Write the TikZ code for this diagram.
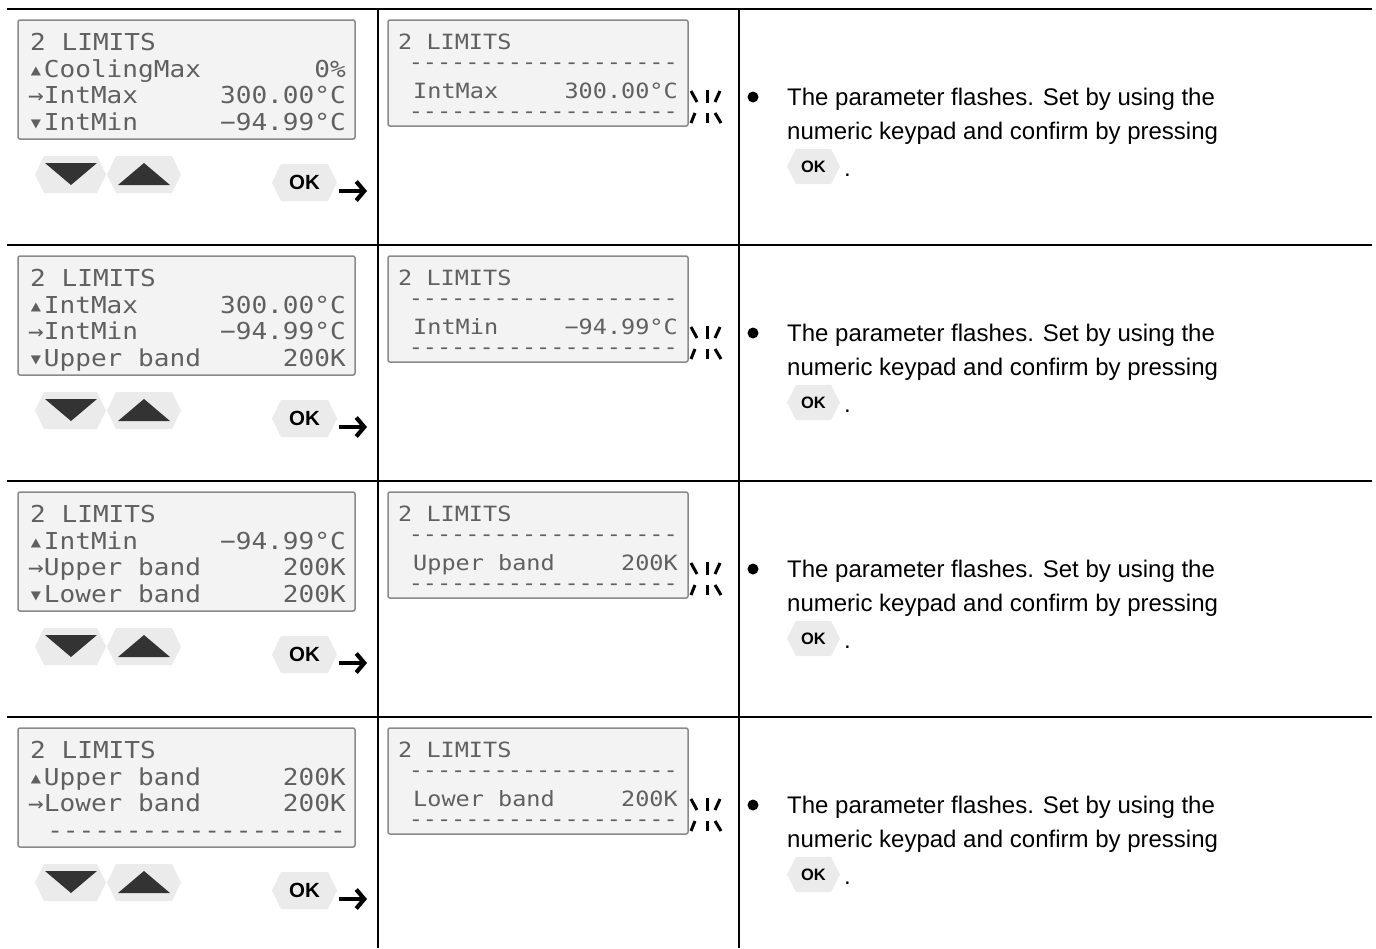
\documentclass[tikz,border=0pt]{standalone}
\usepackage{fontspec}
\setmainfont{Liberation Sans}
\newfontfamily\lcdfont[FakeStretch=1.12]{DejaVu Sans Mono}
\usetikzlibrary{arrows.meta}
\definecolor{lcdfill}{HTML}{F3F3F3}
\definecolor{lcdedge}{HTML}{8A8A8A}
\definecolor{lcdtext}{HTML}{606060}
\definecolor{keyfill}{HTML}{EBEBEB}
\definecolor{keytri}{HTML}{333333}
\tikzset{
  rule/.style={line width=2.2pt, black},
  lcdbox/.style={draw=lcdedge, fill=lcdfill, line width=1.5pt, rounded corners=2pt, inner sep=0pt},
  lcdbig/.style={inner sep=0pt, font=\lcdfont\fontsize{23.3}{24}\selectfont, text=lcdtext},
  lcdsmall/.style={inner sep=0pt, font=\lcdfont\fontsize{21}{22}\selectfont, text=lcdtext},
  okbig/.style={font=\bfseries\fontsize{20.5}{21}\selectfont},
  oksmall/.style={font=\bfseries\fontsize{16.5}{17}\selectfont},
  body/.style={inner sep=0pt, anchor=base west, font=\fontsize{24}{34}\selectfont},
  flash/.style={line width=3pt, black},
  okarrow/.style={line width=3.6pt, -{Straight Barb[length=8pt,width=19pt,line width=4.2pt]}},
}
\newcommand\lcddashes{-{}-{}-{}-{}-{}-{}-{}-{}-{}-{}-{}-{}-{}-{}-{}-{}-{}-{}-}
% name, cx, cy, half width, half height, style, content
\newcommand\hexkey[7]{%
  \fill[keyfill] ({#2-#4},{#3}) -- ({#2-#4+9},{#3-#5}) -- ({#2+#4-9},{#3-#5})
    -- ({#2+#4},{#3}) -- ({#2+#4-9},{#3+#5}) -- ({#2-#4+9},{#3+#5}) -- cycle;
  \node[inner sep=0pt, #6] (#1) at (#2,#3) {#7};}
% index, l2, v2, l3, v3, l4, v4, param, value
\newcommand\limrow[9]{%
\begin{scope}[yshift={-236pt*#1}]
  % left display
  \node[lcdbox, minimum width=337pt, minimum height=119pt] (lcdA#1) at (186.5,79.5) {};
  \node[lcdbig, anchor=base west] (a1#1) at (30,50) {2 LIMITS};
  \node[lcdbig, anchor=base west] (a2#1) at (28,77) {#2};
  \node[lcdbig, anchor=base east] (b2#1) at (346,77) {#3};
  \node[lcdbig, anchor=base west] (a3#1) at (28,103.5) {#4};
  \node[lcdbig, anchor=base east] (b3#1) at (346,103.5) {#5};
  \node[lcdbig, anchor=base west] (a4#1) at (28,130) {#6};
  \node[lcdbig, anchor=base east] (b4#1) at (346,130) {#7};
  % keys
  \hexkey{dn#1}{70.5}{174.5}{35.5}{18.5}{}{}
  \hexkey{up#1}{144}{174.5}{37}{18.5}{}{}
  \fill[keytri] (45,163) -- (97,163) -- (71,185) -- cycle;
  \fill[keytri] (118,185) -- (170,185) -- (144,163) -- cycle;
  \hexkey{ok#1}{304.5}{182.5}{32.5}{18.5}{okbig}{OK}
  \coordinate (as#1) at (339,191);
  \coordinate (ae#1) at (367,191);
  \draw[okarrow] (as#1) -- (ae#1);
  % right display
  \node[lcdbox, minimum width=300pt, minimum height=106pt] (lcdB#1) at (538,73) {};
  \node[lcdsmall, anchor=base west] (c1#1) at (398,49) {2 LIMITS};
  \node[lcdsmall, anchor=base east] (c2#1) at (678,69) {\lcddashes};
  \node[lcdsmall, anchor=base west] (c3#1) at (413,98) {#8};
  \node[lcdsmall, anchor=base east] (d3#1) at (678,98) {#9};
  \node[lcdsmall, anchor=base east] (c4#1) at (678,118) {\lcddashes};
  % flashing marks
  \draw[flash] (691,91) -- (697,102);
  \draw[flash] (707,90) -- (707,103);
  \draw[flash] (720,91) -- (715,102);
  \draw[flash] (695,113) -- (691,123);
  \draw[flash] (707,113) -- (707,123);
  \draw[flash] (715,113) -- (721,123);
  % instruction
  \fill (753,97) circle (5.5pt);
  \node[body] (e1#1) at (787,105) {The parameter flashes. Set by using the};
  \node[body] (e2#1) at (787,139) {numeric keypad and confirm by pressing};
  \hexkey{okr#1}{813.5}{166.5}{26.5}{17.5}{oksmall}{OK}
  \node[body] (dot#1) at (844,176) {.};
\end{scope}}

\begin{document}
\begin{tikzpicture}[x=1pt,y=-1pt]
\useasboundingbox (0,0) rectangle (1376,948);
\fill[white] (0,0) rectangle (1376,948);
\limrow{0}{▴CoolingMax}{0\%}{→IntMax}{300.00°C}{▾IntMin}{−94.99°C}{IntMax}{300.00°C}
\limrow{1}{▴IntMax}{300.00°C}{→IntMin}{−94.99°C}{▾Upper band}{200K}{IntMin}{−94.99°C}
\limrow{2}{▴IntMin}{−94.99°C}{→Upper band}{200K}{▾Lower band}{200K}{Upper band}{200K}
\limrow{3}{▴Upper band}{200K}{→Lower band}{200K}{}{\lcddashes}{Lower band}{200K}
% table rules
\draw[rule] (7,9) -- (1372,9);
\draw[rule] (7,245) -- (1372,245);
\draw[rule] (7,481) -- (1372,481);
\draw[rule] (7,717) -- (1372,717);
\draw[rule] (378,9) -- (378,948);
\draw[rule] (739,9) -- (739,948);
\end{tikzpicture}
\end{document}
